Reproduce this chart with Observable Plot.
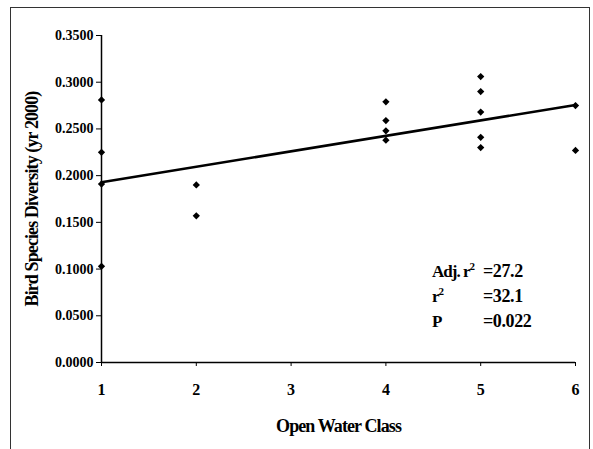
<!DOCTYPE html>
<html>
<head>
<meta charset="utf-8">
<script src="https://cdn.jsdelivr.net/npm/d3@7"></script>
<script src="https://cdn.jsdelivr.net/npm/@observablehq/plot@0.6"></script>
<style>
  html, body { margin: 0; padding: 0; background: #fff; }
  #wrap { position: relative; width: 593px; height: 449px; overflow: hidden; }
  #box { position: absolute; left: 10px; top: 7px; width: 580px; height: 460px;
         border: 1px solid #333; box-sizing: border-box; pointer-events: none; }
  #stats { position: absolute; left: 432px; top: 259px; font-family: "Liberation Serif", serif;
           font-weight: bold; font-size: 18px; line-height: 25px; color: #000; letter-spacing: -0.4px; white-space: nowrap; }
  #stats .row { position: relative; height: 25px; width: 150px; }
  #stats .k { position: absolute; left: 0; white-space: nowrap; font-size: 17px; letter-spacing: -1px; }
  #stats .v { position: absolute; left: 51px; white-space: nowrap; }
  #stats sup { font-size: 11px; vertical-align: 7px; line-height: 0; }
</style>
</head>
<body>
<div id="wrap">
  <div id="chart"></div>
  <div id="stats"></div>
  <div id="box"></div>
</div>
<script>
// Open water class of each survey site and its bird species diversity (yr 2000)
const waterClass = [1, 1, 1, 1, 2, 2, 4, 4, 4, 4, 5, 5, 5, 5, 5, 6, 6];
const diversity = [0.281, 0.225, 0.191, 0.103, 0.190, 0.157, 0.279, 0.259, 0.248, 0.238,
                   0.306, 0.290, 0.268, 0.241, 0.230, 0.275, 0.227];
const xTicks = [1, 2, 3, 4, 5, 6];
const yTicks = [0, 0.05, 0.10, 0.15, 0.20, 0.25, 0.30, 0.35];
// Regression summary printed inside the plot
const statLabels = ["Adj. r<sup>2</sup>", "r<sup>2</sup>", "P"];
const statValues = ["=27.2", "=32.1", "=0.022"];

const points = waterClass.map((c, i) => ({cls: c, div: diversity[i]}));

const font = "'Liberation Serif', serif";
const chart = Plot.plot({
  width: 593,
  height: 449,
  marginLeft: 101,
  marginRight: 18,
  marginTop: 35,
  marginBottom: 87,
  style: {fontFamily: font, fontWeight: "bold", fontSize: "14px", color: "#000", background: "#fff"},
  x: {domain: [1, 6]},
  y: {domain: [0, 0.35]},
  marks: [
    Plot.axisY(yTicks, {
      tickFormat: d3.format(".4f"), tickSize: 5, tickPadding: 3,
      fontSize: 14, letterSpacing: -0.7,
      label: "Bird Species Diversity (yr 2000)", labelAnchor: "center", labelArrow: "none",
      labelOffset: 76
    }),
    Plot.axisX(xTicks, {
      tickSize: 4, tickPadding: 17, fontSize: 16,
      label: "Open Water Class", labelAnchor: "center", labelArrow: "none", labelOffset: 69
    }),
    Plot.ruleY([0], {stroke: "#000", strokeWidth: 1.5}),
    Plot.ruleX([1], {stroke: "#000", strokeWidth: 1.5}),
    Plot.linearRegressionY(points, {x: "cls", y: "div", ci: 0, stroke: "#000", strokeWidth: 2.6}),
    // diamond markers: squares turned by 45 degrees
    Plot.dot(points, {x: "cls", y: "div", symbol: "square", rotate: 45, r: 2.9, fill: "#000", stroke: "none"})
  ]
});
document.getElementById("chart").appendChild(chart);

// label styles of the axis titles
chart.querySelectorAll("g[aria-label='y-axis label'] text, g[aria-label='x-axis label'] text").forEach(t => {
  t.setAttribute("font-size", "18");
  t.setAttribute("letter-spacing", "-0.9");
});

const stats = document.getElementById("stats");
statLabels.forEach((k, i) => {
  const row = document.createElement("div");
  row.className = "row";
  row.innerHTML = `<span class="k">${k}</span><span class="v">${statValues[i]}</span>`;
  stats.appendChild(row);
});
</script>
</body>
</html>
